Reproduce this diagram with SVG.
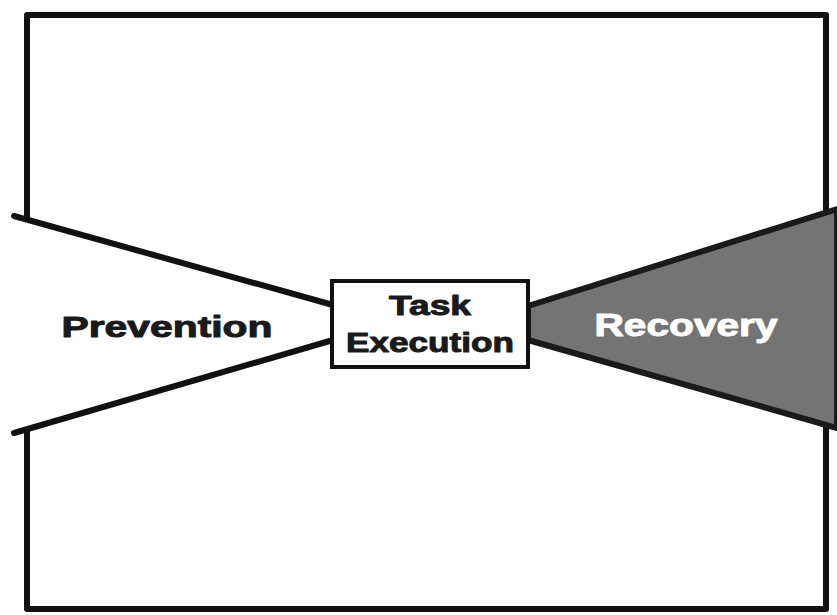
<svg xmlns="http://www.w3.org/2000/svg" width="837" height="615" viewBox="0 0 837 615">
<style>
.ln{fill:none;stroke:#111;stroke-width:6;stroke-linejoin:round;stroke-linecap:round}
.lbl{font-family:"Liberation Sans",Arial,sans-serif;font-weight:bold;stroke-width:1;stroke-linejoin:round}
.dk{fill:#1a1a1a;stroke:#1a1a1a}
.wt{fill:#fff;stroke:#fff}
</style>
<rect width="837" height="615" fill="#fff"/>
<g id="frame">
<path class="ln" d="M27,216 L27,15 L826,15 L826,212"/>
<path class="ln" d="M27,432 L27,609 L826,609 L826,428"/>
</g>
<g id="recovery">
<path d="M528,306 L837,209 L837,428 L528,340 Z" fill="#747474" stroke="#1a1a1a" stroke-width="6" stroke-linejoin="round"/>
<text class="lbl wt" x="686" y="336" font-size="31" text-anchor="middle" textLength="183" lengthAdjust="spacingAndGlyphs">Recovery</text>
</g>
<g id="prevention">
<path class="ln" d="M14,216 L333,305"/>
<path class="ln" d="M14,433 L333,340"/>
<text class="lbl dk" x="167" y="337" font-size="30" text-anchor="middle" textLength="211" lengthAdjust="spacingAndGlyphs">Prevention</text>
</g>
<g id="task">
<rect x="332" y="281" width="196" height="86" fill="#fff" stroke="#111" stroke-width="4"/>
<text class="lbl dk" x="430" y="315" font-size="28" text-anchor="middle" textLength="82" lengthAdjust="spacingAndGlyphs">Task</text>
<text class="lbl dk" x="430" y="352" font-size="28" text-anchor="middle" textLength="168" lengthAdjust="spacingAndGlyphs">Execution</text>
</g>
</svg>
